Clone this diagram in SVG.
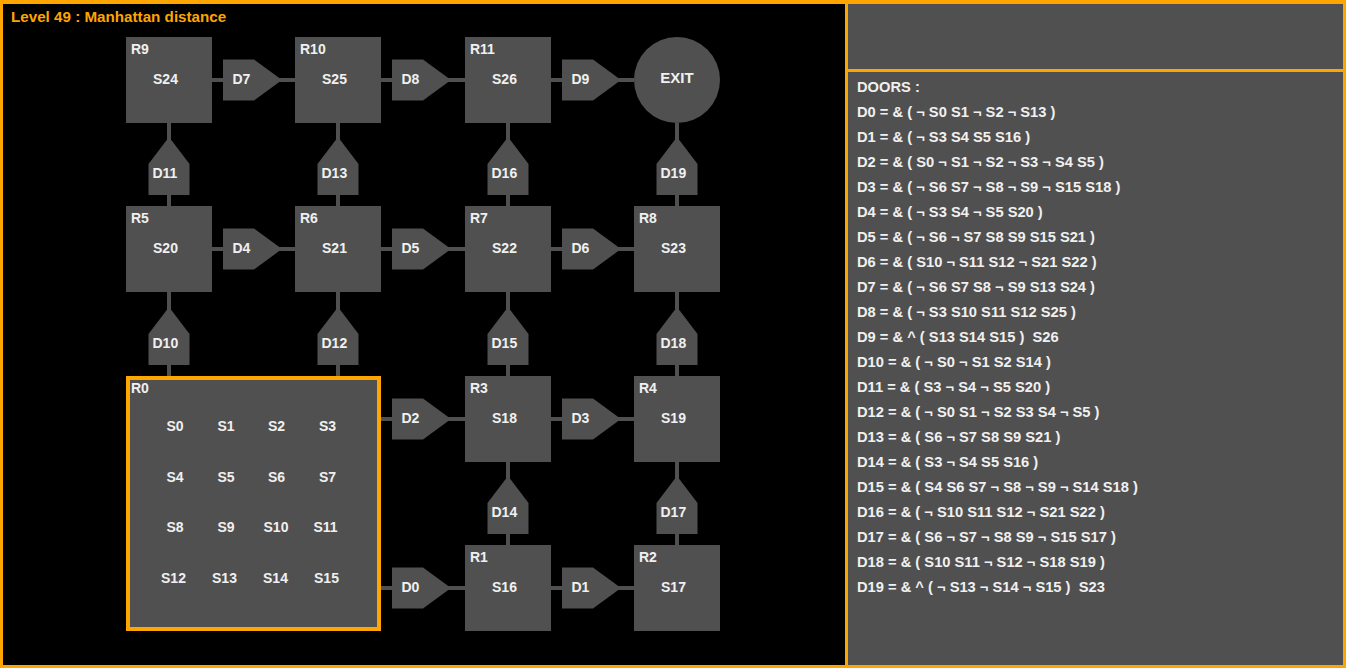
<svg xmlns="http://www.w3.org/2000/svg" width="1346" height="668" viewBox="0 0 1346 668">
<style>
text{font-family:"Liberation Sans",Arial,sans-serif;font-weight:bold;font-size:14px;fill:#f0f0f0}
.title{fill:#FFA500;font-size:15.2px}
.room{fill:#505050}
.door{fill:#505050}
.conn line{stroke:#505050;stroke-width:4}
.mid{text-anchor:middle}
.list text{white-space:pre;font-size:14.7px}
</style>
<rect x="0" y="0" width="1346" height="668" fill="#FFA500"/>
<rect x="3" y="4" width="842" height="661" fill="#000"/>
<rect x="848" y="4" width="495" height="65" fill="#505050"/>
<rect x="848" y="72" width="495" height="593" fill="#505050"/>
<text class="title" x="11" y="22">Level 49 : Manhattan distance</text>

<g class="conn" id="connectors">
<line x1="212" y1="80" x2="295" y2="80"/>
<line x1="381" y1="80" x2="465" y2="80"/>
<line x1="551" y1="80" x2="634" y2="80"/>
<line x1="212" y1="249" x2="295" y2="249"/>
<line x1="381" y1="249" x2="465" y2="249"/>
<line x1="551" y1="249" x2="634" y2="249"/>
<line x1="381" y1="419" x2="465" y2="419"/>
<line x1="551" y1="419" x2="634" y2="419"/>
<line x1="381" y1="588" x2="465" y2="588"/>
<line x1="551" y1="588" x2="634" y2="588"/>
<line x1="169" y1="123" x2="169" y2="206"/>
<line x1="338" y1="123" x2="338" y2="206"/>
<line x1="508" y1="123" x2="508" y2="206"/>
<line x1="677" y1="123" x2="677" y2="206"/>
<line x1="169" y1="292" x2="169" y2="376"/>
<line x1="338" y1="292" x2="338" y2="376"/>
<line x1="508" y1="292" x2="508" y2="376"/>
<line x1="677" y1="292" x2="677" y2="376"/>
<line x1="508" y1="462" x2="508" y2="545"/>
<line x1="677" y1="462" x2="677" y2="545"/>
</g>

<g id="R9"><rect class="room" x="126" y="37" width="86" height="86"/><text x="131" y="54">R9</text><text class="mid" x="165.5" y="84">S24</text></g>
<g id="R10"><rect class="room" x="295" y="37" width="86" height="86"/><text x="300" y="54">R10</text><text class="mid" x="334.5" y="84">S25</text></g>
<g id="R11"><rect class="room" x="465" y="37" width="86" height="86"/><text x="470" y="54">R11</text><text class="mid" x="504.5" y="84">S26</text></g>
<g id="EXIT"><circle class="room" cx="677" cy="80" r="43"/><text class="mid" x="677" y="82.5" style="font-size:15px">EXIT</text></g>
<g id="R5"><rect class="room" x="126" y="206" width="86" height="86"/><text x="131" y="223">R5</text><text class="mid" x="165.5" y="253">S20</text></g>
<g id="R6"><rect class="room" x="295" y="206" width="86" height="86"/><text x="300" y="223">R6</text><text class="mid" x="334.5" y="253">S21</text></g>
<g id="R7"><rect class="room" x="465" y="206" width="86" height="86"/><text x="470" y="223">R7</text><text class="mid" x="504.5" y="253">S22</text></g>
<g id="R8"><rect class="room" x="634" y="206" width="86" height="86"/><text x="639" y="223">R8</text><text class="mid" x="673.5" y="253">S23</text></g>
<g id="R3"><rect class="room" x="465" y="376" width="86" height="86"/><text x="470" y="393">R3</text><text class="mid" x="504.5" y="423">S18</text></g>
<g id="R4"><rect class="room" x="634" y="376" width="86" height="86"/><text x="639" y="393">R4</text><text class="mid" x="673.5" y="423">S19</text></g>
<g id="R1"><rect class="room" x="465" y="545" width="86" height="86"/><text x="470" y="562">R1</text><text class="mid" x="504.5" y="592">S16</text></g>
<g id="R2"><rect class="room" x="634" y="545" width="86" height="86"/><text x="639" y="562">R2</text><text class="mid" x="673.5" y="592">S17</text></g>
<g id="R0">
<rect x="128" y="378" width="251" height="251" fill="#505050" stroke="#FFA500" stroke-width="4"/>
<text x="131" y="393">R0</text>
<text class="mid" x="175" y="431">S0</text><text class="mid" x="226" y="431">S1</text><text class="mid" x="276.5" y="431">S2</text><text class="mid" x="327.5" y="431">S3</text>
<text class="mid" x="175" y="482">S4</text><text class="mid" x="226" y="482">S5</text><text class="mid" x="276.5" y="482">S6</text><text class="mid" x="327.5" y="482">S7</text>
<text class="mid" x="175" y="532">S8</text><text class="mid" x="226" y="532">S9</text><text class="mid" x="276" y="532">S10</text><text class="mid" x="325.5" y="532">S11</text>
<text class="mid" x="173.5" y="583">S12</text><text class="mid" x="224.5" y="583">S13</text><text class="mid" x="275.5" y="583">S14</text><text class="mid" x="326.5" y="583">S15</text>
</g>

<defs>
<polygon id="hd" points="0,-20.5 31,-20.5 59,0 31,20.5 0,20.5"/>
<polygon id="vd" points="-20.5,0 -20.5,-31 0,-58 20.5,-31 20.5,0"/>
</defs>
<g id="D7"><use href="#hd" class="door" x="223" y="80"/><text x="232.5" y="84">D7</text></g>
<g id="D8"><use href="#hd" class="door" x="392" y="80"/><text x="401.5" y="84">D8</text></g>
<g id="D9"><use href="#hd" class="door" x="562" y="80"/><text x="571.5" y="84">D9</text></g>
<g id="D4"><use href="#hd" class="door" x="223" y="249"/><text x="232.5" y="253">D4</text></g>
<g id="D5"><use href="#hd" class="door" x="392" y="249"/><text x="401.5" y="253">D5</text></g>
<g id="D6"><use href="#hd" class="door" x="562" y="249"/><text x="571.5" y="253">D6</text></g>
<g id="D2"><use href="#hd" class="door" x="392" y="419"/><text x="401.5" y="423">D2</text></g>
<g id="D3"><use href="#hd" class="door" x="562" y="419"/><text x="571.5" y="423">D3</text></g>
<g id="D0"><use href="#hd" class="door" x="392" y="588"/><text x="401.5" y="592">D0</text></g>
<g id="D1"><use href="#hd" class="door" x="562" y="588"/><text x="571.5" y="592">D1</text></g>
<g id="D11"><use href="#vd" class="door" x="169" y="195"/><text x="152.5" y="178">D11</text></g>
<g id="D13"><use href="#vd" class="door" x="338" y="195"/><text x="321.5" y="178">D13</text></g>
<g id="D16"><use href="#vd" class="door" x="508" y="195"/><text x="491.5" y="178">D16</text></g>
<g id="D19"><use href="#vd" class="door" x="677" y="195"/><text x="660.5" y="178">D19</text></g>
<g id="D10"><use href="#vd" class="door" x="169" y="365"/><text x="152.5" y="348">D10</text></g>
<g id="D12"><use href="#vd" class="door" x="338" y="365"/><text x="321.5" y="348">D12</text></g>
<g id="D15"><use href="#vd" class="door" x="508" y="365"/><text x="491.5" y="348">D15</text></g>
<g id="D18"><use href="#vd" class="door" x="677" y="365"/><text x="660.5" y="348">D18</text></g>
<g id="D14"><use href="#vd" class="door" x="508" y="534"/><text x="491.5" y="517">D14</text></g>
<g id="D17"><use href="#vd" class="door" x="677" y="534"/><text x="660.5" y="517">D17</text></g>

<g class="list" id="doors-list">
<text x="857" y="92">DOORS :</text>
<text x="857" y="117">D0 = &amp; ( ¬ S0 S1 ¬ S2 ¬ S13 )</text>
<text x="857" y="142">D1 = &amp; ( ¬ S3 S4 S5 S16 )</text>
<text x="857" y="167">D2 = &amp; ( S0 ¬ S1 ¬ S2 ¬ S3 ¬ S4 S5 )</text>
<text x="857" y="192">D3 = &amp; ( ¬ S6 S7 ¬ S8 ¬ S9 ¬ S15 S18 )</text>
<text x="857" y="217">D4 = &amp; ( ¬ S3 S4 ¬ S5 S20 )</text>
<text x="857" y="242">D5 = &amp; ( ¬ S6 ¬ S7 S8 S9 S15 S21 )</text>
<text x="857" y="267">D6 = &amp; ( S10 ¬ S11 S12 ¬ S21 S22 )</text>
<text x="857" y="292">D7 = &amp; ( ¬ S6 S7 S8 ¬ S9 S13 S24 )</text>
<text x="857" y="317">D8 = &amp; ( ¬ S3 S10 S11 S12 S25 )</text>
<text x="857" y="342">D9 = &amp; ^ ( S13 S14 S15 )  S26</text>
<text x="857" y="367">D10 = &amp; ( ¬ S0 ¬ S1 S2 S14 )</text>
<text x="857" y="392">D11 = &amp; ( S3 ¬ S4 ¬ S5 S20 )</text>
<text x="857" y="417">D12 = &amp; ( ¬ S0 S1 ¬ S2 S3 S4 ¬ S5 )</text>
<text x="857" y="442">D13 = &amp; ( S6 ¬ S7 S8 S9 S21 )</text>
<text x="857" y="467">D14 = &amp; ( S3 ¬ S4 S5 S16 )</text>
<text x="857" y="492">D15 = &amp; ( S4 S6 S7 ¬ S8 ¬ S9 ¬ S14 S18 )</text>
<text x="857" y="517">D16 = &amp; ( ¬ S10 S11 S12 ¬ S21 S22 )</text>
<text x="857" y="542">D17 = &amp; ( S6 ¬ S7 ¬ S8 S9 ¬ S15 S17 )</text>
<text x="857" y="567">D18 = &amp; ( S10 S11 ¬ S12 ¬ S18 S19 )</text>
<text x="857" y="592">D19 = &amp; ^ ( ¬ S13 ¬ S14 ¬ S15 )  S23</text>
</g>
</svg>
